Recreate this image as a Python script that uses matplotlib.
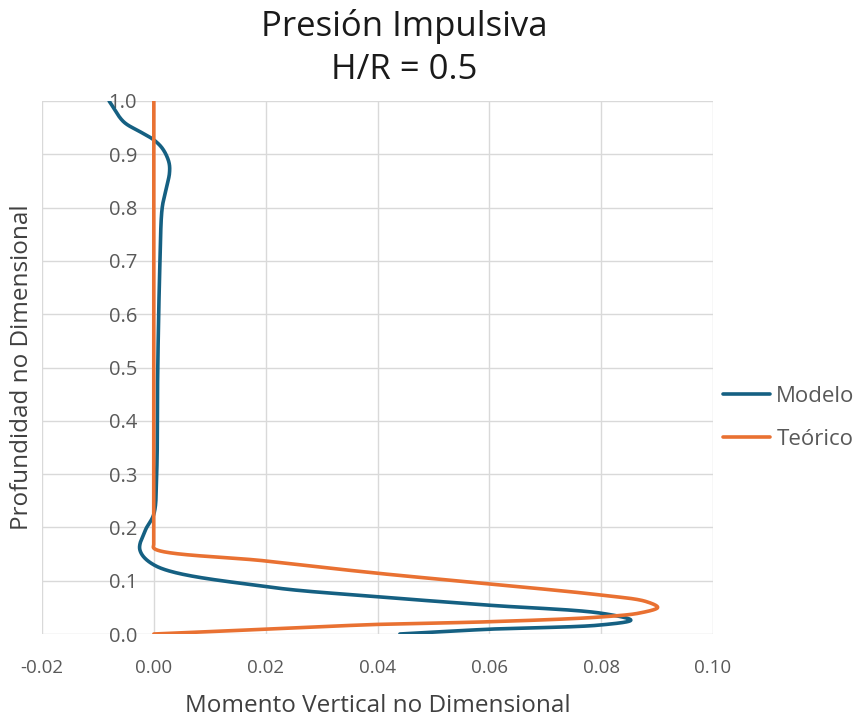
import numpy as np
import matplotlib
matplotlib.use("Agg")
import matplotlib.pyplot as plt

# Modelo (numerical) – points along the profile
modelo_x = [-0.0080, -0.0054, -0.0024, 0.0000, 0.0016, 0.0027, 0.0028,
            0.0022, 0.0015, 0.0011, 0.0007, 0.0005, 0.0000, -0.0015, -0.0025,
            0.0003, 0.0200, 0.0400, 0.0600, 0.0800, 0.0853,
            0.0800, 0.0600, 0.0440]
modelo_y = [1.000, 0.961, 0.942, 0.927, 0.910, 0.885, 0.865,
            0.835, 0.800, 0.700, 0.500, 0.300, 0.225, 0.195, 0.158,
            0.128, 0.089, 0.070, 0.054, 0.039, 0.026,
            0.017, 0.009, 0.000]

# Teórico – points along the profile
teorico_x = [0.000, 0.000, 0.000, 0.000, 0.000, 0.020, 0.040, 0.060, 0.080,
             0.0880, 0.0901, 0.0872, 0.080, 0.060, 0.040, 0.020, 0.000]
teorico_y = [1.000, 0.500, 0.200, 0.170, 0.161, 0.137, 0.114, 0.094, 0.073,
             0.061, 0.050, 0.040, 0.032, 0.023, 0.018, 0.009, 0.000]

x_ticks = [-0.02, 0.00, 0.02, 0.04, 0.06, 0.08, 0.10]
y_ticks = [0.0, 0.1, 0.2, 0.3, 0.4, 0.5, 0.6, 0.7, 0.8, 0.9, 1.0]

XLIM = (-0.02, 0.10)
YLIM = (0.0, 1.0)

BLUE = "#156082"
ORANGE = "#E97132"
GRID = "#D9D9D9"
TXT = "#595959"

plt.rcParams["font.family"] = ["Open Sans", "DejaVu Sans"]

AX_W, AX_H = 671.0, 533.0  # plot area size in pixels


def smooth(xs, ys, n=60, alpha=0.5):
    """Centripetal Catmull-Rom curve through the points, spaced in screen units."""
    sx = AX_W / (XLIM[1] - XLIM[0])
    sy = AX_H / (YLIM[1] - YLIM[0])
    p = np.column_stack([np.asarray(xs) * sx, np.asarray(ys) * sy])
    p = np.vstack([2 * p[0] - p[1], p, 2 * p[-1] - p[-2]])
    out = []
    for i in range(1, len(p) - 2):
        p0, p1, p2, p3 = p[i - 1], p[i], p[i + 1], p[i + 2]
        t0 = 0.0
        t1 = t0 + max(np.linalg.norm(p1 - p0), 1e-9) ** alpha
        t2 = t1 + max(np.linalg.norm(p2 - p1), 1e-9) ** alpha
        t3 = t2 + max(np.linalg.norm(p3 - p2), 1e-9) ** alpha
        t = np.linspace(t1, t2, n, endpoint=False)[:, None]
        a1 = (t1 - t) / (t1 - t0) * p0 + (t - t0) / (t1 - t0) * p1
        a2 = (t2 - t) / (t2 - t1) * p1 + (t - t1) / (t2 - t1) * p2
        a3 = (t3 - t) / (t3 - t2) * p2 + (t - t2) / (t3 - t2) * p3
        b1 = (t2 - t) / (t2 - t0) * a1 + (t - t0) / (t2 - t0) * a2
        b2 = (t3 - t) / (t3 - t1) * a2 + (t - t1) / (t3 - t1) * a3
        c = (t2 - t) / (t2 - t1) * b1 + (t - t1) / (t2 - t1) * b2
        out.append(c)
    out.append(p[-2][None, :])
    out = np.vstack(out)
    return out[:, 0] / sx, out[:, 1] / sy


fig = plt.figure(figsize=(8.63, 7.23), dpi=100)
ax = fig.add_axes([42 / 863, 1 - 634 / 723, AX_W / 863, AX_H / 723])

mx, my = smooth(modelo_x, modelo_y)
tx, ty = smooth(teorico_x, teorico_y)
ax.plot(mx, my, color=BLUE, lw=2.6, label="Modelo", solid_capstyle="round",
        solid_joinstyle="round", zorder=3)
ax.plot(tx, ty, color=ORANGE, lw=2.6, label="Teórico", solid_capstyle="round",
        solid_joinstyle="round", zorder=3)

ax.set_xlim(*XLIM)
ax.set_ylim(*YLIM)
ax.set_xticks(x_ticks)
ax.set_yticks(y_ticks)
ax.set_xticklabels([f"{v:.2f}" for v in x_ticks])
ax.set_yticklabels([f"{v:.1f}" for v in y_ticks])
ax.grid(True, color=GRID, lw=1.0)
ax.set_axisbelow(True)
for s in ["top", "right", "bottom"]:
    ax.spines[s].set_visible(False)
ax.spines["left"].set_position(("data", 0.0))
ax.spines["left"].set_visible(False)
ax.tick_params(axis="both", length=0, labelcolor=TXT)
ax.tick_params(axis="y", pad=12, labelsize=14.5)
ax.tick_params(axis="x", pad=18, labelsize=13.5)

ax.set_xlabel("Momento Vertical no Dimensional", fontsize=17.5, color="#404040",
              labelpad=12)
fig.text(22 / 863, 1 - 367 / 723, "Profundidad no Dimensional", rotation=90,
         fontsize=17.5, color="#404040", ha="center", va="center")

fig.text(404 / 863, 1 - 27 / 723, "Presión Impulsiva", fontsize=25,
         color="#1a1a1a", ha="center", va="center")
fig.text(404 / 863, 1 - 70 / 723, "H/R = 0.5", fontsize=25, color="#1a1a1a",
         ha="center", va="center")

fig.legend(loc="center left", bbox_to_anchor=(703 / 863, 1 - 418 / 723),
           frameon=False, fontsize=16, labelcolor=TXT, handlelength=2.1,
           handletextpad=0.3, labelspacing=1.0)

fig.savefig("out.png", dpi=100)
